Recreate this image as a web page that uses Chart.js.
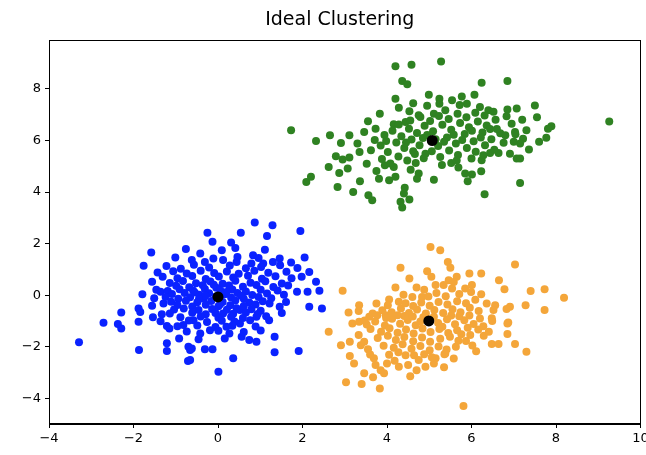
<!DOCTYPE html>
<html>
<head>
<meta charset="utf-8">
<script src="https://cdn.jsdelivr.net/npm/chart.js@4/dist/chart.umd.min.js"></script>
<style>
html,body{margin:0;padding:0;background:#fff;}
#wrap{width:646px;height:455px;position:relative;}
</style>
</head>
<body>
<div id="wrap"><canvas id="c" width="646" height="455"></canvas></div>
<script>
const chartTitle = 'Ideal Clustering';
const xTicks = [-4, -2, 0, 2, 4, 6, 8, 10];
const yTicks = [-4, -2, 0, 2, 4, 6, 8];

const bluePoints = [
[-3.29,-1.83],[-2.71,-1.07],[-2.37,-1.12],[-2.29,-1.29],[-2.29,-0.67],[-1.87,-2.13],[-1.79,0.03],[-1.88,-0.52],[-1.84,-0.65],[-1.88,-1.03],[-1.54,-0.86],[-1.33,-0.74],[-1.29,-0.32],[-1.21,-1.2],[-1.15,-1.29],[-1.21,-1.87],[-1.21,-2.17],[-0.92,-1.68],[-0.7,-2.0],[-0.66,-2.13],[-0.71,-2.56],[-0.82,-1.16],[-1.36,0.13],
[-1.58,1.65],[-1.76,1.14],
[0.01,-2.97],[0.36,-2.45],[0.91,-1.81],[1.34,-1.61],[1.34,-2.22],[1.91,-2.17],[-0.62,-2.07],[-0.31,-2.1],[-0.13,-2.1],[-0.66,-2.52],[0.56,-1.61],[0.27,-1.49],[2.16,-0.45],[2.46,-0.52],[1.87,0.13],[2.12,0.13],[2.4,0.17],[1.21,-0.97],[0.91,-0.84],[1.46,-0.45],[1.22,-0.32],[0.52,-1.1],[0.2,-1.23],[-0.19,-1.36],[-0.42,-1.49],[-0.58,-0.97],[0.12,-0.71],[0.52,-0.58],
[0.87,2.82],[1.29,2.71],[1.95,2.49],[0.54,2.42],[1.16,2.29],[-0.25,2.42],[-0.13,2.07],[0.09,1.74],[-0.42,1.62],[0.83,1.55],[2.05,1.46],[1.73,1.27],[1.46,1.42],[1.3,1.29],[2.16,0.9],[2.32,0.52],
[-0.62,1.36],[-0.31,1.29],[0.12,1.36],[0.44,1.29],[0.79,1.23],[1.07,1.23],
[-1.22,1.13],[-0.88,1.02],[-0.57,1.18],[-0.21,1.07],[0.28,1.15],[0.66,1.04],[1.02,1.09],[1.47,1.16],[1.88,1.05],
[-1.43,0.88],[-1.06,0.93],[-0.74,0.84],[-0.41,0.95],[-0.09,0.86],[0.21,0.92],[0.49,0.83],[0.86,0.95],[1.19,0.87],[1.62,0.91],
[-1.31,0.71],[-0.96,0.66],[-0.61,0.74],[-0.29,0.63],[0.02,0.72],[0.36,0.68],[0.71,0.75],[1.04,0.64],[1.36,0.73],[1.74,0.66],[1.98,0.71],
[-1.56,0.52],[-1.14,0.47],[-0.83,0.55],[-0.52,0.46],[-0.18,0.53],[0.11,0.44],[0.41,0.56],[0.77,0.48],[1.12,0.54],[1.51,0.45],
[-0.99,0.36],[-0.68,0.31],[-0.36,0.38],[-0.04,0.29],[0.26,0.37],[0.59,0.33],[0.91,0.39],[1.31,0.32],[1.66,0.37],
[-1.46,0.21],[-1.19,0.16],[-0.91,0.23],[-0.59,0.18],[-0.31,0.24],[0.06,0.17],[0.34,0.22],[0.66,0.14],[1.01,0.21],[1.41,0.18],
[-1.09,0.04],[-0.79,0.08],[-0.44,0.02],[-0.21,0.07],[0.16,0.03],[0.46,0.08],[0.81,0.01],[1.16,0.06],[1.56,0.02],
[-1.51,-0.12],[-1.24,-0.07],[-0.94,-0.14],[-0.66,-0.08],[-0.34,-0.13],[0.31,-0.09],[0.61,-0.14],[0.96,-0.07],[1.26,-0.12],
[-1.11,-0.26],[-0.76,-0.22],[-0.49,-0.28],[-0.16,-0.23],[0.11,-0.27],[0.41,-0.21],[0.74,-0.29],[1.06,-0.24],[1.61,-0.27],
[-1.56,-0.41],[-0.96,-0.38],[-0.61,-0.44],[-0.29,-0.37],[0.01,-0.43],[0.29,-0.39],[0.61,-0.42],[0.89,-0.36],
[-1.04,-0.56],[-0.81,-0.52],[-0.46,-0.58],[-0.14,-0.54],[0.21,-0.57],[0.44,-0.51],[0.79,-0.55],[1.01,-0.61],
[-1.14,-0.71],[-0.61,-0.68],[-0.29,-0.74],[-0.06,-0.69],[0.36,-0.72],[0.66,-0.67],[0.94,-0.73],[1.51,-0.69],
[-0.89,-0.86],[-0.41,-0.83],[0.01,-0.88],[0.31,-0.84],[0.59,-0.89],[1.14,-0.82],
[-1.36,-1.01],[-0.69,-0.98],[-0.26,-1.04],[0.09,-0.99],[0.39,-1.02],[0.76,-0.97],
[-0.96,-1.21],[-0.49,-1.18],[-0.06,-1.24],[0.34,-1.19],[0.89,-1.22],
[-0.74,-1.41],[0.01,-1.38],[0.61,-1.43],[1.01,-1.37],
[-0.46,-1.71],[0.16,-1.68],[0.74,-1.74],
[-1.01,1.46],[-0.11,1.42],[0.46,1.48],[0.96,1.44],[-0.76,1.79],[0.41,1.83],[1.11,1.76],[0.31,2.04],[-0.55,0.1],[-0.05,-0.05],[0.2,0.12],[-0.3,-0.02],[0.55,-0.02],[-0.1,0.4],[0.05,-0.35],[-0.45,-0.15]
];

const orangePoints = [
[5.03,1.87],[5.26,1.74],[4.32,1.06],[4.53,0.65],[4.95,0.93],[5.05,0.71],[4.2,0.3],[4.7,0.3],[5.15,0.39],[2.95,0.17],[4.05,-0.17],[4.28,-0.26],[3.75,-0.32],[3.34,-0.39],[3.33,-0.62],[3.09,-0.67],[4.6,-0.07],[4.83,-0.07],[3.97,-0.78],[3.58,-0.84],[3.77,-0.78],
[5.44,1.29],[5.5,1.06],[7.03,1.19],[5.95,0.84],[6.23,0.84],[5.65,0.71],[5.46,0.58],[6.65,0.58],[6.78,0.23],[7.4,0.16],[7.73,0.23],[8.19,-0.1],[6.23,0.03],[6.01,0.39],[5.85,0.26],[5.54,0.26],[5.34,0.39],[6.36,-0.32],[6.56,-0.39],[6.52,-0.58],[6.91,-0.45],[6.83,-0.54],[7.28,-0.39],[7.73,-0.58],[6.87,-1.06],[6.48,-0.9],
[2.62,-1.42],[2.91,-1.94],[3.12,-1.81],[3.12,-2.36],[3.33,-1.55],[3.46,-3.03],[3.03,-3.38],[3.4,-3.45],[3.67,-3.19],[3.83,-3.62],[3.85,-2.91],[3.93,-3.03],[4.28,-2.78],[4.5,-2.71],[4.7,-2.91],[4.91,-2.78],[5.11,-2.65],[5.15,-2.45],[5.38,-2.26],[3.69,-2.45],[3.73,-2.71],[3.38,-1.94],[3.46,-1.81],[4.44,-2.33],[4.64,-2.33],[4.75,-2.52],[3.18,-1.1],[3.34,-1.03],
[5.81,-4.3],[6.48,-1.9],[6.64,-1.9],[6.85,-1.51],[6.85,-1.1],[7.03,-1.9],[7.3,-2.2],[6.49,-1.0],[5.36,-2.29],[5.63,-2.0],[5.69,-1.77],[5.97,-1.55],[6.16,-1.33],
[3.72,-1.02],[3.95,-1.18],[4.12,-0.92],[4.31,-1.11],[4.49,-0.96],[4.68,-1.17],[4.86,-0.86],[5.21,-1.08],[5.42,-0.94],[5.61,-1.13],[5.83,-0.97],[6.05,-1.12],[6.28,-1.21],
[3.61,-1.31],[3.86,-1.42],[4.06,-1.28],[4.25,-1.46],[4.45,-1.33],[4.63,-1.49],[4.84,-1.29],[5.03,-1.43],[5.24,-1.31],[5.45,-1.47],[5.66,-1.36],[5.91,-1.27],
[3.78,-1.66],[4.02,-1.58],[4.21,-1.74],[4.41,-1.62],[4.62,-1.79],[4.83,-1.64],[5.02,-1.81],[5.26,-1.69],[5.49,-1.61],[5.76,-1.52],
[3.92,-1.96],[4.16,-2.04],[4.37,-1.91],[4.58,-2.08],[4.79,-1.97],[5.01,-2.14],[5.22,-1.99],[5.41,-2.11],
[4.05,-2.31],[4.27,-2.22],[4.88,-2.29],[5.06,-2.41],[4.18,-2.55],
[3.66,-0.71],[3.89,-0.59],[4.11,-0.66],[4.33,-0.52],[4.52,-0.69],[4.71,-0.56],[4.92,-0.71],[5.12,-0.58],[5.33,-0.69],[5.55,-0.55],[5.74,-0.66],[5.96,-0.49],[6.17,-0.62],
[4.02,-0.39],[4.44,-0.31],[4.62,-0.42],[4.81,-0.29],[5.01,-0.41],[5.22,-0.27],[5.43,-0.36],[5.66,-0.24],[5.87,-0.31],[6.09,-0.18],
[4.39,0.02],[4.98,-0.05],[5.17,0.08],[5.39,-0.04],[5.71,0.04],[5.99,0.12],[4.88,0.21],[5.58,0.51],[4.41,-0.81],[4.61,-0.83],[4.79,-1.02],[5.11,-0.84],[5.31,-1.23],[5.52,-0.79],[5.71,-0.82],[5.95,-0.79],[6.2,-0.91],[3.52,-1.14],[3.47,-0.98],[3.98,-0.89],[4.25,-0.78],[5.87,-1.78],[6.02,-1.95],[6.29,-1.58],[6.41,-1.42],[6.11,-2.18],[5.58,-2.46],[3.55,-2.1],[3.22,-2.65],[3.6,-2.3],[4.0,-2.65],[4.55,-3.15],[5.35,-2.8]
];

const greenPoints = [
[1.73,6.4],[4.2,8.88],[4.58,8.94],[5.28,9.07],[4.36,8.31],[4.48,8.18],[4.99,7.78],[4.2,7.62],[4.28,7.27],[3.83,7.04],[4.53,7.14],[5.24,7.62],[5.24,7.43],[4.16,6.63],[3.73,6.46],[3.46,6.33],[3.11,6.2],[2.65,6.2],[4.44,6.72],[4.75,6.98],[5.11,7.04],[5.38,7.17],
[6.24,8.24],[6.85,8.31],[7.5,7.36],[9.26,6.74],[7.89,6.55],[7.81,6.46],[6.07,7.78],[5.77,7.71],[5.54,7.56],[5.89,7.43],[6.2,7.3],[6.4,7.17],[6.85,7.2],[7.07,7.24],[6.83,6.94],[7.2,6.81],[6.95,6.65],[7.03,6.33],
[2.32,5.98],[2.91,5.9],[3.3,5.88],[2.79,5.39],[2.95,5.26],[3.11,5.34],[2.62,4.97],[2.87,4.74],[3.07,4.91],[2.09,4.39],[2.2,4.59],[2.83,4.2],[3.2,4.0],[3.36,4.42],[3.56,3.88],[3.65,3.68],[3.81,4.52],[4.05,4.46],[4.2,4.59],[4.16,4.97],[4.42,4.17],[4.4,3.94],[4.53,3.71],[4.32,3.62],[4.36,3.4],[3.95,5.04],[4.56,4.87],[4.75,4.72],[4.71,4.52],[4.68,5.13],[5.11,4.48],[4.91,5.49],
[7.04,6.24],[7.77,6.11],[7.22,6.07],[7.15,5.88],[7.36,5.65],[6.91,5.49],[7.07,5.3],[7.15,5.3],[6.64,5.52],[6.44,5.52],[6.28,5.43],[6.24,5.23],[6.23,4.81],[6.01,4.68],[5.85,4.72],[5.91,4.42],[5.69,4.95],[5.52,5.13],[7.15,4.35],[6.31,3.91],
[3.62,5.62],[3.85,5.81],[4.02,5.55],[4.22,5.92],[4.41,5.71],[4.58,6.04],[4.77,5.82],[4.95,6.21],[5.21,5.79],[5.42,6.12],[5.63,5.88],[5.84,6.25],[6.05,5.97],[6.26,6.31],[6.47,6.05],[6.68,6.28],
[3.71,6.02],[3.94,6.21],[4.13,6.38],[4.34,6.17],[4.52,6.46],[4.71,6.29],[4.89,6.57],[5.09,6.36],[5.31,6.61],[5.52,6.42],[5.73,6.68],[5.94,6.51],[6.15,6.74],[6.36,6.58],[6.57,6.81],
[3.88,5.28],[4.08,5.11],[4.27,5.38],[4.48,5.22],[4.66,5.48],[4.87,5.31],[5.06,5.58],[5.26,5.36],[5.47,5.61],[5.68,5.44],[5.89,5.71],[6.1,5.56],[6.32,5.82],[6.54,5.64],[6.76,5.91],
[4.55,6.78],[4.79,6.91],[5.02,6.76],[5.23,6.95],[5.46,6.83],[5.67,7.04],[5.88,6.9],[6.09,7.08],[6.31,6.97],[6.52,7.12],
[3.98,5.98],[4.62,5.58],[5.15,6.05],[5.35,5.95],[5.58,6.22],[5.78,6.02],[6.01,6.38],[6.22,6.12],[6.44,6.45],[4.45,5.92],[4.85,6.1],[4.28,6.62],[3.55,6.75],[3.35,5.55],[3.52,5.1],[3.75,4.82],[5.3,5.05],[5.65,5.22],[6.0,5.3],[6.6,6.45],[6.8,6.2],[7.0,5.95],[7.3,6.4],[7.55,6.9],[7.6,5.95],[4.95,7.35],[4.62,7.45],[5.72,7.38]
];

const centroids = [[0.0,-0.07],[4.99,-1.0],[5.07,6.0]];

const toXY = arr => arr.map(p => ({x: p[0], y: p[1]}));
const fmt = v => (v < 0 ? '\u2212' + Math.abs(v) : String(v));

const framePlugin = {
  id: 'frame',
  afterDraw(chart) {
    const {ctx, chartArea: a} = chart;
    ctx.save();
    ctx.strokeStyle = '#000';
    ctx.lineWidth = 1;
    ctx.strokeRect(Math.round(a.left) + 0.5, Math.round(a.top) + 0.5, Math.round(a.right - a.left) - 1, Math.round(a.bottom - a.top) - 1);
    ctx.fillStyle = '#000';
    ctx.font = '19px "DejaVu Sans"';
    ctx.textAlign = 'center';
    ctx.textBaseline = 'middle';
    ctx.fillText(chartTitle, (a.left + a.right) / 2 - 5, 20);
    ctx.restore();
  }
};

const tickFont = {family: '"DejaVu Sans"', size: 13};

new Chart(document.getElementById('c'), {
  type: 'scatter',
  data: {
    datasets: [
      {data: toXY(centroids), backgroundColor: '#000', borderWidth: 0, pointRadius: 5.5, order: 0},
      {data: toXY(bluePoints), backgroundColor: '#0a22ff', borderWidth: 0, pointRadius: 4, order: 1},
      {data: toXY(orangePoints), backgroundColor: '#f4a63a', borderWidth: 0, pointRadius: 4, order: 2},
      {data: toXY(greenPoints), backgroundColor: '#2f8222', borderWidth: 0, pointRadius: 4, order: 3}
    ]
  },
  options: {
    responsive: false,
    animation: false,
    events: [],
    layout: {padding: {left: 0, right: 5, top: 40, bottom: 0}},
    plugins: {legend: {display: false}, tooltip: {enabled: false}, title: {display: false}},
    scales: {
      x: {
        type: 'linear', min: -4, max: 10,
        afterBuildTicks: s => { s.ticks = xTicks.map(v => ({value: v})); },
        afterFit: s => { s.height = 31; s.paddingLeft = 0; s.paddingRight = 0; },
        ticks: {callback: v => fmt(v), font: tickFont, color: '#000', padding: 3, maxRotation: 0, autoSkip: false},
        grid: {display: true, drawOnChartArea: false, drawTicks: true, tickLength: 4, color: '#000'},
        border: {display: true, color: '#000'}
      },
      y: {
        type: 'linear', min: -5, max: 9.9,
        afterBuildTicks: s => { s.ticks = yTicks.map(v => ({value: v})); },
        afterFit: s => { s.width = 49; s.paddingTop = 0; s.paddingBottom = 0; },
        ticks: {callback: v => fmt(v), font: tickFont, color: '#000', padding: 4, autoSkip: false},
        grid: {display: true, drawOnChartArea: false, drawTicks: true, tickLength: 4, color: '#000'},
        border: {display: true, color: '#000'}
      }
    }
  },
  plugins: [framePlugin]
});
</script>
</body>
</html>
